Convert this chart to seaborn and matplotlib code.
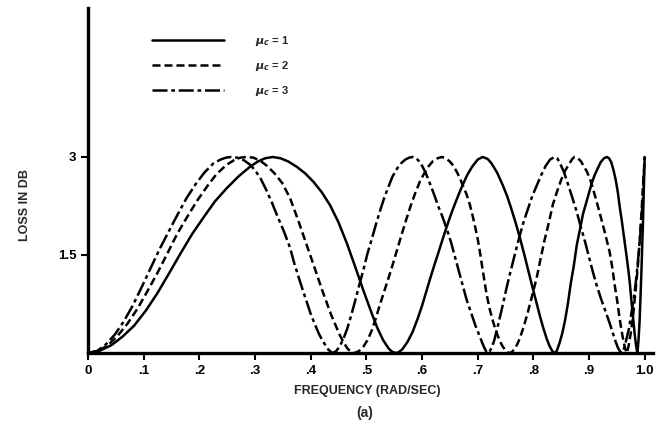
import matplotlib
matplotlib.use("Agg")
import matplotlib.pyplot as plt
import seaborn as sns
import pandas as pd

# ---- data ----
labels = [r"$\mu_c$ = 1", r"$\mu_c$ = 2", r"$\mu_c$ = 3"]

x_mu1 = [0, .02, .042, .062, .083, .104, .125, .145, .166, .187, .208, .228, .249, .27, .291, .305, .318, .332,
         .346, .36, .375, .39, .405, .42, .435, .45, .465, .48, .495, .51, .52, .53, .54, .546, .552,
         .558, .565, .574, .583, .592, .60, .607, .614, .622, .63, .637, .644, .652, .66, .667, .673, .681, .69, .70, .709,
         .718, .725, .735, .745, .753, .76, .768, .776, .784, .791, .799, .806, .812, .818, .824, .829, .834, .838,
         .842, .847, .852, .857, .862, .867, .873, .878, .884, .889, .895, .90, .905, .91, .916, .921, .927, .932,
         .936, .94, .944, .948, .952, .955, .959, .962, .965, .968, .971, .973, .976, .979, .982, .984, .986, .987,
         .989, .991, .994, .997, 1.0]
y_mu1 = [0, .03, .12, .25, .42, .65, .92, 1.21, 1.52, 1.82, 2.08, 2.32, 2.52, 2.7, 2.85, 2.93, 2.98, 3.0,
         2.98, 2.93, 2.85, 2.75, 2.62, 2.46, 2.26, 2.0, 1.68, 1.32, .95, .6, .38, .2, .07, .02, 0,
         .01, .06, .17, .32, .52, .72, .92, 1.12, 1.34, 1.55, 1.74, 1.92, 2.12, 2.3, 2.45, 2.57, 2.72, 2.85, 2.96, 3.0,
         2.97, 2.9, 2.76, 2.57, 2.4, 2.22, 2.0, 1.76, 1.5, 1.26, .99, .76, .56, .38, .22, .11, .03, 0,
         .03, .15, .3, .5, .75, 1.05, 1.35, 1.65, 1.9, 2.12, 2.3, 2.45, 2.6, 2.72, 2.83, 2.92, 2.98, 3.0,
         2.98, 2.92, 2.8, 2.65, 2.45, 2.25, 2.02, 1.83, 1.64, 1.45, 1.25, 1.1, .82, .56, .3, .15, .04, 0,
         .2, .5, 1.2, 2.0, 3.0]

x_mu2 = [0, .018, .036, .053, .071, .089, .107, .125, .143, .16, .178, .196, .214, .231, .249, .262, .274, .285,
         .297, .31, .322, .335, .349, .363, .378, .393, .408, .422, .437, .452, .46, .466, .472, .479,
         .487, .495, .503, .51, .517, .524, .532, .54, .548, .556, .564, .572, .58, .588, .596, .604, .612, .62, .628, .636,
         .643, .65, .656, .662, .668, .673, .68, .686, .691, .695, .70, .704, .71, .716, .722, .728, .734, .74, .745, .75, .754, .758,
         .762, .766, .771, .776, .783, .79, .798, .806, .813, .82, .828, .835, .843, .85, .857, .865, .87, .874,
         .879, .885, .89, .896, .902, .907, .913, .92, .928, .937, .942, .946, .951, .955, .959, .962, .965, .968,
         .971, .975, .979, .983, .987, .991, .995, 1.0]
y_mu2 = [0, .03, .12, .26, .45, .68, .95, 1.23, 1.53, 1.82, 2.08, 2.33, 2.55, 2.74, 2.88, 2.95, 2.99, 3.0,
         2.99, 2.94, 2.86, 2.75, 2.6, 2.37, 2.02, 1.65, 1.28, .93, .58, .28, .15, .07, .02, 0,
         .03, .1, .21, .35, .53, .73, .94, 1.15, 1.37, 1.6, 1.83, 2.05, 2.26, 2.45, 2.62, 2.75, 2.86, 2.94, 2.98, 3.0,
         2.98, 2.93, 2.87, 2.78, 2.68, 2.57, 2.43, 2.27, 2.1, 1.95, 1.75, 1.55, 1.22, .9, .66, .47, .31, .18, .1, .04, .01, 0,
         .02, .06, .13, .23, .41, .62, .88, 1.15, 1.44, 1.72, 2.0, 2.27, 2.48, 2.65, 2.79, 2.9, 2.97, 3.0,
         2.99, 2.94, 2.87, 2.78, 2.66, 2.52, 2.34, 2.12, 1.86, 1.55, 1.3, 1.05, .78, .53, .32, .18, .07, 0,
         .1, .3, .55, .9, 1.25, 1.7, 2.25, 3.0]

x_mu3 = [0, .016, .032, .048, .064, .08, .096, .112, .128, .145, .161, .177, .193, .209, .225, .238, .248, .257,
         .268, .28, .29, .30, .31, .32, .33, .34, .352, .363, .37, .378, .386, .393, .40, .408, .415, .422, .428, .432, .436, .44,
         .446, .452, .459, .466, .473, .48, .487, .495, .502, .51, .517, .524, .532, .54, .547, .555, .562, .57, .577, .583,
         .59, .598, .606, .614, .622, .629, .637, .644, .652, .659, .666, .673, .68, .688, .696, .704, .708, .712, .715, .718,
         .722, .726, .73, .737, .745, .752, .76, .768, .776, .783, .791, .798, .806, .814, .822, .83, .838,
         .843, .847, .855, .862, .87, .878, .885, .893, .90, .907, .914, .922, .93, .937, .943, .948, .952, .956, .959,
         .963, .967, .972, .976, .981, .985, .989, .993, .997, 1.0]
y_mu3 = [0, .03, .13, .28, .48, .72, 1.0, 1.29, 1.58, 1.86, 2.12, 2.37, 2.58, 2.76, 2.9, 2.96, 2.99, 3.0,
         2.99, 2.95, 2.89, 2.8, 2.67, 2.5, 2.31, 2.1, 1.86, 1.61, 1.39, 1.17, .96, .78, .6, .43, .29, .18, .1, .05, .02, 0,
         .03, .1, .22, .38, .58, .8, 1.03, 1.28, 1.52, 1.75, 1.96, 2.16, 2.37, 2.55, 2.7, 2.82, 2.9, 2.96, 2.99, 3.0,
         2.98, 2.9, 2.77, 2.6, 2.42, 2.25, 2.08, 1.91, 1.7, 1.48, 1.26, 1.04, .82, .62, .42, .25, .16, .08, .03, 0,
         .03, .1, .2, .44, .73, 1.0, 1.28, 1.55, 1.81, 2.02, 2.22, 2.4, 2.56, 2.72, 2.86, 2.96, 3.0,
         2.98, 2.92, 2.77, 2.59, 2.38, 2.16, 1.94, 1.7, 1.47, 1.24, 1.03, .82, .63, .46, .3, .17, .08, .02, 0,
         .07, .2, .38, .6, .86, 1.15, 1.5, 1.9, 2.4, 3.0]

xtick_vals = [0, .1, .2, .3, .4, .5, .6, .7, .8, .9, 1.0]
xtick_labels = ["0", ".1", ".2", ".3", ".4", ".5", ".6", ".7", ".8", ".9", "1.0"]
ytick_vals = [1.5, 3]
ytick_labels = ["1.5", "3"]

# ---- styling ----
sns.set_style("ticks")
plt.rcParams["font.family"] = ["Liberation Sans", "DejaVu Sans"]
plt.rcParams["font.weight"] = "bold"

fig = plt.figure(figsize=(6.56, 4.34), dpi=100)
ax = fig.add_axes([88/656, 81/434, 565/656, 345/434])

dashes = [(None, None), (3.2, 1.6), (6, 1.5, 1.5, 1.5)]
series = [(x_mu1, y_mu1), (x_mu2, y_mu2), (x_mu3, y_mu3)]
for (xs, ys), lab, d in zip(series, labels, dashes):
    df = pd.DataFrame({"f": xs, "loss": ys})
    sns.lineplot(data=df, x="f", y="loss", ax=ax, color="black", lw=1.8,
                 estimator=None, sort=False, label=lab)
    line = ax.lines[-1]
    line.set_solid_joinstyle("round")
    line.set_dash_joinstyle("round")
    if d[0] is not None:
        line.set_dashes(d)

ax.set_xlim(0, 1.015)
ax.set_ylim(0, 5.28)
ax.set_xticks(xtick_vals)
ax.set_xticklabels(xtick_labels)
ax.set_yticks(ytick_vals)
ax.set_yticklabels(ytick_labels)
ax.set_xlabel("")
ax.set_ylabel("")
for s in ["top", "right"]:
    ax.spines[s].set_visible(False)
for s in ["left", "bottom"]:
    ax.spines[s].set_linewidth(2.4)
    ax.spines[s].set_color("black")
ax.tick_params(axis="both", direction="out", length=5, width=1.5,
               colors="black", labelsize=9.5)
ax.tick_params(axis="x", pad=4)
for t in ax.get_xticklabels() + ax.get_yticklabels():
    t.set_fontweight("bold")

leg = ax.legend(loc="upper left", bbox_to_anchor=(0.095, 0.955), frameon=False,
                handlelength=6.5, handletextpad=2.8, labelspacing=1.0,
                fontsize=8)
for t in leg.get_texts():
    t.set_fontweight("bold")

fig.text(25/656, 1 - 205/434, "LOSS IN DB", rotation=90, ha="center",
         va="center", fontsize=9, fontweight="bold")
fig.text(367/656, 1 - 391/434, "FREQUENCY (RAD/SEC)", ha="center",
         va="center", fontsize=9, fontweight="bold")
fig.text(365/656, 1 - 413/434, "(a)", ha="center", va="center",
         fontsize=10, fontweight="bold")

fig.savefig("out.png", dpi=100, facecolor="white")
